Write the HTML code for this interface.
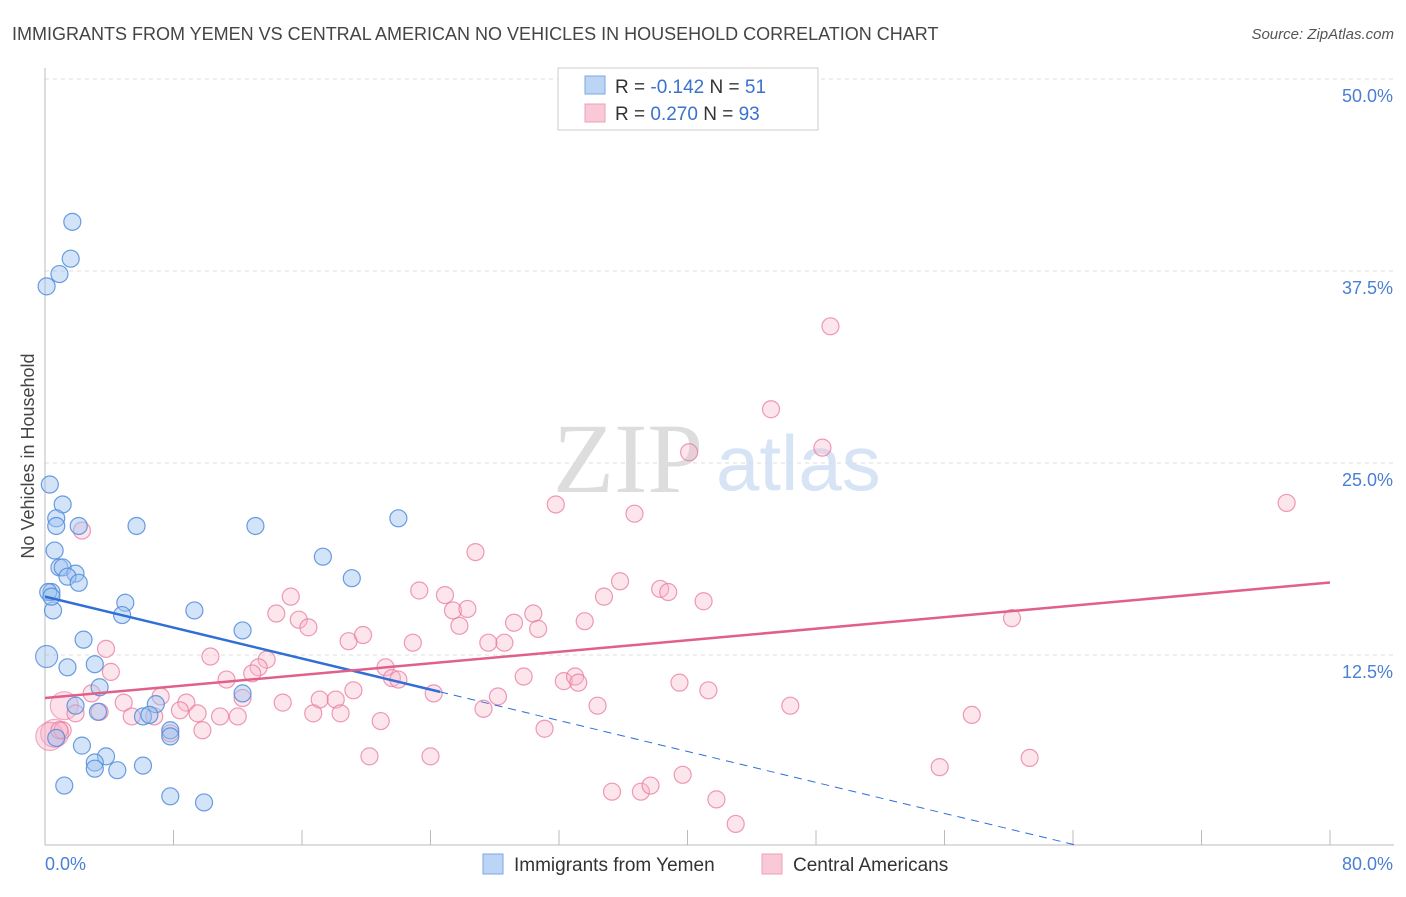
<!DOCTYPE html>
<html><head><meta charset="utf-8"><style>
body{margin:0;background:#fff;width:1406px;height:892px;overflow:hidden;font-family:"Liberation Sans",sans-serif}
</style></head><body>
<svg id="chart" width="1406" height="892" xmlns="http://www.w3.org/2000/svg" font-family="Liberation Sans, sans-serif">
<text x="12" y="40" font-size="18" fill="#444">IMMIGRANTS FROM YEMEN VS CENTRAL AMERICAN NO VEHICLES IN HOUSEHOLD CORRELATION CHART</text>
<text x="1394" y="39" font-size="15" fill="#555" font-style="italic" text-anchor="end">Source: ZipAtlas.com</text>
<g>
<text x="553" y="492" font-size="100" font-family="Liberation Serif, serif" fill="#ddd">ZIP</text>
<text x="716" y="490" font-size="78" fill="#d6e4f6">atlas</text>
</g>
<text transform="translate(34,456) rotate(-90)" font-size="18" fill="#444" text-anchor="middle">No Vehicles in Household</text>
<g id="grid"></g><g id="axes"></g><g id="pts"></g><g id="lines"></g>
<g>
<rect x="558" y="68" width="260" height="62" fill="#fff" stroke="#ccc"/>
<rect x="585" y="76" width="20" height="18" fill="#bcd5f5" stroke="#7aa8e6"/>
<rect x="585" y="104" width="20" height="18" fill="#f9c9d8" stroke="#eda0b8"/>
<text x="615" y="93" font-size="19" fill="#333">R = <tspan fill="#3a72d0">-0.142</tspan>   N =  <tspan fill="#3a72d0">51</tspan></text>
<text x="615" y="120" font-size="19" fill="#333">R =  <tspan fill="#3a72d0">0.270</tspan>   N = <tspan fill="#3a72d0">93</tspan></text>
</g>
<g>
<rect x="483" y="854" width="20" height="20" fill="#bcd5f5" stroke="#7aa8e6"/>
<text x="514" y="871" font-size="19" fill="#333">Immigrants from Yemen</text>
<rect x="762" y="854" width="20" height="20" fill="#f9c9d8" stroke="#eda0b8"/>
<text x="793" y="871" font-size="19" fill="#333">Central Americans</text>
</g>
</svg>
<script>
const yTicks=[12.5,25,37.5,50];
const yTickLabels=["12.5%","25.0%","37.5%","50.0%"];
const xTicks=[0,8,16,24,32,40,48,56,64,72,80];
const xEndLabels=["0.0%","80.0%"];
const blueX=[1.7,1.6,0.9,0.1,0.3,1.1,0.7,0.7,2.1,5.7,13.1,22.0,0.6,17.3,0.9,1.1,1.9,1.4,2.1,19.1,0.4,5.0,0.5,9.3,4.8,12.3,2.4,1.4,3.1,3.4,12.3,6.9,1.9,3.3,6.1,7.8,0.7,2.3,3.8,3.1,3.1,4.5,6.1,1.2,7.8,9.9,0.2,0.4,7.8,6.5];
const blueY=[40.7,38.3,37.3,36.5,23.6,22.3,21.4,20.9,20.9,20.9,20.9,21.4,19.3,18.9,18.2,18.2,17.8,17.6,17.2,17.5,16.6,15.9,15.4,15.4,15.1,14.1,13.5,11.7,11.9,10.4,10.0,9.3,9.2,8.8,8.5,7.6,7.1,6.6,5.9,5.5,5.1,5.0,5.3,4.0,3.3,2.9,16.6,16.3,7.2,8.6];
const blueBigX=[0.1];
const blueBigY=[12.4];
const pinkX=[2.3,31.8,77.3,36.7,48.9,45.2,48.4,40.1,26.8,23.3,24.9,35.8,38.3,38.8,41.0,34.8,15.3,14.4,15.8,16.4,25.4,26.3,30.4,29.2,33.6,25.8,28.6,27.6,30.7,18.9,19.8,22.9,60.2,3.8,4.1,10.3,13.8,11.3,13.3,12.9,21.2,21.6,22.0,29.8,32.3,33.0,33.2,39.5,41.3,19.2,24.2,28.2,17.1,18.1,7.2,2.9,4.9,8.8,14.8,1.9,3.4,5.4,6.8,8.4,9.5,10.9,12.0,16.7,18.4,1.1,7.8,9.8,20.9,31.1,27.3,34.4,46.4,57.7,20.2,24.0,55.7,61.3,35.3,37.1,37.7,39.7,41.8,43.0,0.9,12.3];
const pinkY=[20.6,22.3,22.4,21.7,33.9,28.5,26.0,25.7,19.2,16.7,16.4,17.3,16.8,16.6,16.0,16.3,16.3,15.2,14.8,14.3,15.4,15.5,15.2,14.6,14.7,14.4,13.3,13.3,14.2,13.4,13.8,13.3,14.9,12.9,11.4,12.4,12.2,10.9,11.7,11.3,11.7,11.0,10.9,11.1,10.8,11.1,10.7,10.7,10.2,10.2,10.0,9.8,9.6,9.6,9.8,10.0,9.4,9.4,9.4,8.7,8.8,8.5,8.5,8.9,8.7,8.5,8.5,8.7,8.7,7.6,7.4,7.6,8.2,7.7,9.0,9.2,9.2,8.6,5.9,5.9,5.2,5.8,3.6,3.6,4.0,4.7,3.1,1.5,7.6,9.7];
const pinkBigX=[1.2,0.6,0.3];
const pinkBigY=[9.2,7.4,7.2];
const blueFit=[16.3,-0.252,24.6,64.4]; // intercept, slope, solid-end, dashed-end
const pinkFit=[9.7,0.094,80];

const X0=45,X1=1330,Y0=847,PXY=15.36;
const sx=v=>X0+(v/80)*(X1-X0);
const sy=v=>Y0-v*PXY;
const NS="http://www.w3.org/2000/svg";
function mk(parent,tag,attrs){const e=document.createElementNS(NS,tag);for(const k in attrs)e.setAttribute(k,attrs[k]);document.getElementById(parent).appendChild(e);return e;}

yTicks.forEach((t,i)=>{
 const g=mk('grid','line',{x1:45,x2:1394,y1:sy(t),y2:sy(t),stroke:'#ddd','stroke-dasharray':'4,4'});
 
 
 const l=mk('grid','text',{x:1393,y:sy(t)+23,'font-size':18,fill:'#4a7fd4','text-anchor':'end'});
 l.textContent=yTickLabels[i];
 
 
});
const ax=mk('axes','line',{x1:45,x2:45,y1:68,y2:845,stroke:'#bbb'});


const bx=mk('axes','line',{x1:45,x2:1394,y1:845,y2:845,stroke:'#bbb'});


xTicks.forEach(t=>{
 const tk=mk('axes','line',{x1:sx(t),x2:sx(t),y1:830,y2:845,stroke:'#bbb'});
 
 
});
const xl0=mk('axes','text',{x:45,y:870,'font-size':18,fill:'#4a7fd4'});xl0.textContent=xEndLabels[0];


const xl1=mk('axes','text',{x:1393,y:870,'font-size':18,fill:'#4a7fd4','text-anchor':'end'});xl1.textContent=xEndLabels[1];



function dots(xs,ys,r,fill,stroke,name){xs.forEach((v,i)=>{
 const c=mk('pts','circle',{cx:sx(v),cy:sy(ys[i]),r:r,fill:fill,stroke:stroke,'stroke-width':1.2});
 
 
});}
dots(pinkBigX,pinkBigY,14,'rgba(248,170,195,0.35)','rgba(232,120,160,0.6)','point-central-american');
dots(blueBigX,blueBigY,11,'rgba(160,196,240,0.45)','rgba(80,140,220,0.8)','point-yemen');
dots(pinkX,pinkY,8.5,'rgba(248,180,200,0.35)','rgba(232,120,160,0.75)','point-central-american');
dots(blueX,blueY,8.5,'rgba(160,196,240,0.45)','rgba(80,140,220,0.85)','point-yemen');

const b1=mk('lines','line',{x1:sx(0),y1:sy(blueFit[0]),x2:sx(blueFit[2]),y2:sy(blueFit[0]+blueFit[1]*blueFit[2]),stroke:'#2f6fd6','stroke-width':2.5});


const b2=mk('lines','line',{x1:sx(blueFit[2]),y1:sy(blueFit[0]+blueFit[1]*blueFit[2]),x2:sx(blueFit[3]),y2:sy(blueFit[0]+blueFit[1]*blueFit[3]),stroke:'#2f6fd6','stroke-width':1,'stroke-dasharray':'8,6'});


const p1=mk('lines','line',{x1:sx(0),y1:sy(pinkFit[0]),x2:sx(pinkFit[2]),y2:sy(pinkFit[0]+pinkFit[1]*pinkFit[2]),stroke:'#e0608a','stroke-width':2.5});


</script>
</body></html>
